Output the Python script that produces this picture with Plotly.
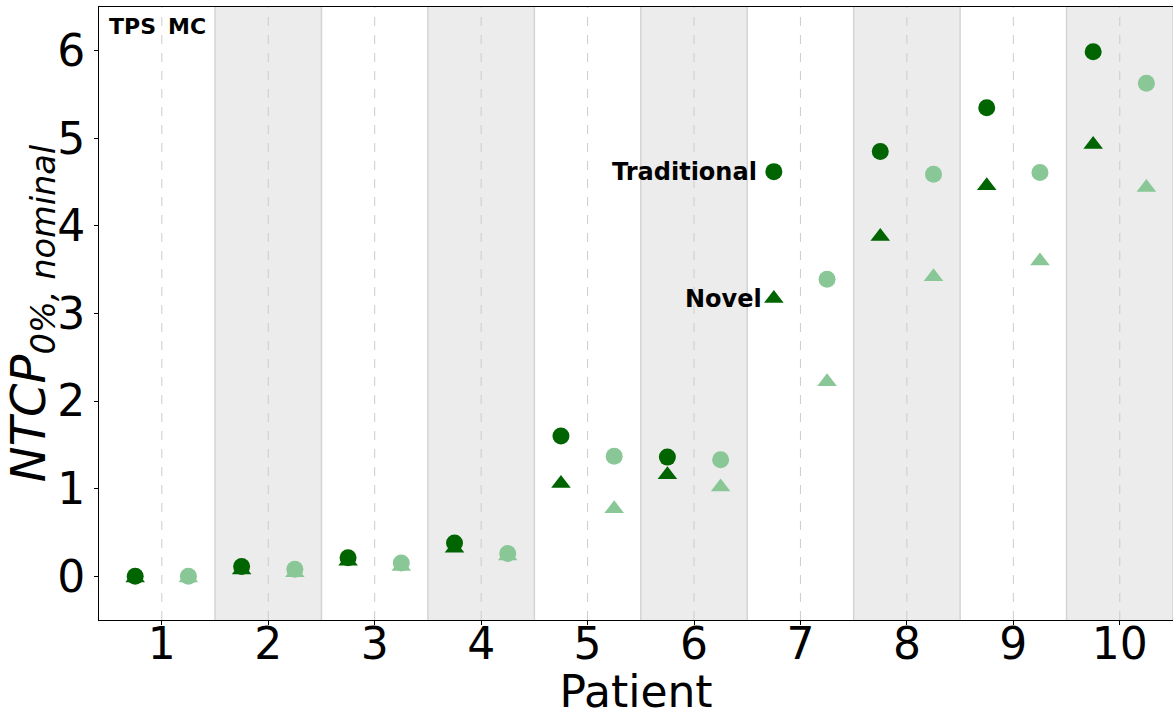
import plotly.graph_objects as go

patients = list(range(1, 11))
tps_traditional = [0.00, 0.11, 0.21, 0.38, 1.60, 1.36, 4.62, 4.85, 5.35, 5.99]
tps_novel = [-0.02, 0.07, 0.17, 0.32, 1.06, 1.16, 3.17, 3.88, 4.46, 4.93]
mc_traditional = [0.00, 0.08, 0.15, 0.26, 1.37, 1.33, 3.39, 4.59, 4.61, 5.63]
mc_novel = [-0.02, 0.04, 0.11, 0.23, 0.77, 1.02, 2.22, 3.42, 3.60, 4.44]
shaded_patients = [2, 4, 6, 8, 10]

DARK = "#006400"
LIGHT = "#89C796"
FONT = "DejaVu Sans"

tps_x = [p - 0.25 for p in patients]
mc_x = [p + 0.25 for p in patients]

fig = go.Figure()
ms = 17
fig.add_trace(go.Scatter(x=tps_x, y=tps_novel, mode="markers",
                         marker=dict(symbol="triangle-up", size=ms, color=DARK, line=dict(width=0))))
fig.add_trace(go.Scatter(x=mc_x, y=mc_novel, mode="markers",
                         marker=dict(symbol="triangle-up", size=ms, color=LIGHT, line=dict(width=0))))
fig.add_trace(go.Scatter(x=tps_x, y=tps_traditional, mode="markers",
                         marker=dict(symbol="circle", size=ms, color=DARK, line=dict(width=0))))
fig.add_trace(go.Scatter(x=mc_x, y=mc_traditional, mode="markers",
                         marker=dict(symbol="circle", size=ms, color=LIGHT, line=dict(width=0))))

shapes = []
for p in shaded_patients:
    shapes.append(dict(type="rect", xref="x", yref="paper", x0=p - 0.5, x1=p + 0.5, y0=0, y1=1,
                       fillcolor="#ececec", line=dict(width=0), layer="below"))
    for e in (p - 0.5, p + 0.5):
        shapes.append(dict(type="line", xref="x", yref="paper", x0=e, x1=e, y0=0, y1=1,
                           line=dict(color="#d4d4d4", width=1.5), layer="below"))
for p in patients:
    shapes.append(dict(type="line", xref="x", yref="paper", x0=p, x1=p, y0=0, y1=1,
                       line=dict(color="#cccccc", width=1, dash="dash"), layer="below"))

annotations = [
    dict(x=tps_x[6], y=tps_traditional[6], xref="x", yref="y", text="<b>Traditional</b>",
         showarrow=False, xanchor="right", yanchor="middle", xshift=-15,
         font=dict(family=FONT, size=24, color="black")),
    dict(x=tps_x[6], y=tps_novel[6], xref="x", yref="y", text="<b>Novel</b>",
         showarrow=False, xanchor="right", yanchor="middle", xshift=-10,
         font=dict(family=FONT, size=24, color="black")),
    dict(x=tps_x[0], y=1, xref="x", yref="paper", text="<b>TPS</b>", showarrow=False,
         xanchor="center", yanchor="top", yshift=-5, xshift=-3,
         font=dict(family=FONT, size=22, color="black")),
    dict(x=mc_x[0], y=1, xref="x", yref="paper", text="<b>MC</b>", showarrow=False,
         xanchor="center", yanchor="top", yshift=-5, xshift=-1,
         font=dict(family=FONT, size=22, color="black")),
]

fig.update_layout(
    width=1173, height=717,
    margin=dict(l=99, r=0, t=7, b=97),
    plot_bgcolor="white", paper_bgcolor="white",
    showlegend=False,
    shapes=shapes, annotations=annotations,
    font=dict(family=FONT, color="black"),
)
fig.update_xaxes(range=[0.41, 10.5], tickmode="array", tickvals=patients,
                 ticktext=[str(p) for p in patients], automargin=False,
                 tickfont=dict(size=44, family=FONT), showgrid=False, zeroline=False,
                 showline=True, linecolor="black", linewidth=1, mirror=True,
                 ticks="outside", ticklen=4, tickcolor="black", ticklabelstandoff=-19,
                 title=dict(text="Patient", font=dict(size=44, family=FONT), standoff=4))
fig.update_yaxes(range=[-0.5, 6.5], tickmode="array", tickvals=[0, 1, 2, 3, 4, 5, 6],
                 automargin=False,
                 tickfont=dict(size=44, family=FONT), showgrid=False, zeroline=False,
                 showline=True, linecolor="black", linewidth=1, mirror=True,
                 ticks="outside", ticklen=4, tickcolor="black",
                 title=dict(text="<i>NTCP</i><sub><i>0%, nominal</i></sub>",
                            font=dict(size=48, family=FONT), standoff=8))

fig.write_html("out.html")
